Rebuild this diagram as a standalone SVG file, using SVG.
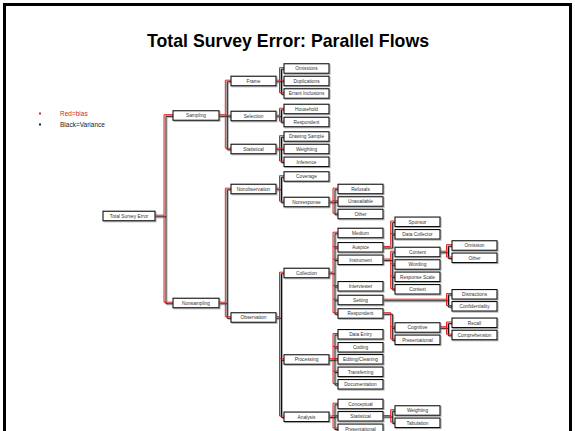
<svg xmlns="http://www.w3.org/2000/svg" width="575" height="431" viewBox="0 0 575 431">
  <defs>
    <filter id="shadow" x="-10%" y="-10%" width="130%" height="140%">
      <feDropShadow dx="1" dy="1" stdDeviation="0.35" flood-color="#777" flood-opacity="0.6"/>
    </filter>
    <style>
      .title { font-family: "Liberation Sans", Arial, sans-serif; font-weight: bold; font-size: 19px; fill: #000; }
      .legend { font-family: "Liberation Sans", Arial, sans-serif; font-size: 6.5px; }
      .node rect { fill: #fff; stroke: #111; stroke-width: 1.1; filter: url(#shadow); }
      .node text { font-family: "Liberation Sans", Arial, sans-serif; font-size: 4.8px; fill: #333; text-anchor: middle; }
      .bias { fill: none; stroke: #e02020; stroke-width: 1; }
      .var { fill: none; stroke: #111; stroke-width: 1; }
    </style>
  </defs>

  <rect x="0" y="0" width="575" height="431" fill="#fff"/>
  <!-- slide frame -->
  <rect x="4.5" y="4.5" width="566" height="460" fill="none" stroke="#000" stroke-width="3"/>

  <text class="title" x="288" y="47" text-anchor="middle" textLength="282" lengthAdjust="spacingAndGlyphs">Total Survey Error: Parallel Flows</text>

  <!-- legend -->
  <g id="legend" class="legend">
    <rect x="39" y="112.5" width="2" height="2" fill="#e02020"/>
    <text x="60" y="115.5" fill="#e02020">Red=bias</text>
    <rect x="39" y="123.5" width="2" height="2" fill="#222"/>
    <text x="60" y="126.5" fill="#222">Black=Variance</text>
  </g>

  <!-- connectors: red = bias path, black = variance path -->
  <g id="connectors" filter="url(#shadow)">
    <path class="var" d="M155,216.8H166 M166,116.3V303.8 M166,116.3H173 M166,303.8H173
      M219,116.3H227.3 M227.3,81.8V149.8 M227.3,81.8H231 M227.3,116.8H231 M227.3,149.8H231
      M219,303.8H227.3 M227.3,189.8V318.3 M227.3,189.8H231 M227.3,318.3H231
      M276,81.8H281.5 M281.5,69.3V94.3 M281.5,69.3H284 M281.5,81.8H284 M281.5,94.3H284
      M276,116.8H281.5 M281.5,109.8V122.8 M281.5,109.8H284 M281.5,122.8H284
      M276,149.8H281.5 M281.5,137.3V162.6 M281.5,137.3H284 M281.5,149.8H284 M281.5,162.6H284
      M276,189.8H281.5 M281.5,177.3V202.8 M281.5,177.3H284 M281.5,202.8H284
      M276,318.3H281.5 M281.5,273.8V417.6 M281.5,273.8H284 M281.5,360.3H284 M281.5,417.6H284
      M329,202.8H335 M335,189.8V214.8 M335,189.8H338 M335,202.3H338 M335,214.8H338
      M329,273.8H335 M335,233.8V314.3 M335,233.8H338 M335,248.1H338 M335,260.6H338 M335,287.1H338 M335,300.8H338 M335,314.3H338
      M329,360.3H335 M335,335.1V385.1 M335,335.1H338 M335,348.1H338 M335,360.1H338 M335,372.6H338 M335,385.1H338
      M329,417.6H335 M335,404.8V429.6 M335,404.8H338 M335,417.1H338 M335,429.6H338
      M383,248.1H392.7 M392.7,222.6V248.1 M392.7,222.6H395 M392.7,235.1H395
      M383,260.6H392.7 M392.7,252.8V290.1 M392.7,252.8H395 M392.7,265.3H395 M392.7,277.6H395 M392.7,290.1H395
      M383,314.3H392.7 M392.7,314.3V340.6 M392.7,328.3H395 M392.7,340.6H395
      M383,300.8H448.5 M448.5,295.1V307.1 M448.5,295.1H452 M448.5,307.1H452
      M383,417.1H392.7 M392.7,411.3V423.6 M392.7,411.3H395 M392.7,423.6H395
      M440,252.8H448.5 M448.5,246.3V258.6 M448.5,246.3H452 M448.5,258.6H452
      M440,328.3H448.5 M448.5,323.6V335.8 M448.5,323.6H452 M448.5,335.8H452"/>
    <path class="bias" d="M155,215.2H164 M164,114.7V302.2 M164,114.7H173 M164,302.2H173
      M219,114.7H225.3 M225.3,80.2V148.2 M225.3,80.2H231 M225.3,115.2H231 M225.3,148.2H231
      M219,302.2H225.3 M225.3,188.2V316.7 M225.3,188.2H231 M225.3,316.7H231
      M276,80.2H279.5 M279.5,67.7V92.7 M279.5,67.7H284 M279.5,80.2H284 M279.5,92.7H284
      M276,115.2H279.5 M279.5,108.2V121.2 M279.5,108.2H284 M279.5,121.2H284
      M276,148.2H279.5 M279.5,135.7V161 M279.5,135.7H284 M279.5,148.2H284 M279.5,161H284
      M276,188.2H279.5 M279.5,175.7V201.2 M279.5,175.7H284 M279.5,201.2H284
      M276,316.7H279.5 M279.5,272.2V416 M279.5,272.2H284 M279.5,358.7H284 M279.5,416H284
      M329,201.2H333 M333,188.2V213.2 M333,188.2H338 M333,200.7H338 M333,213.2H338
      M329,272.2H333 M333,232.2V312.7 M333,232.2H338 M333,246.5H338 M333,259H338 M333,285.5H338 M333,299.2H338 M333,312.7H338
      M329,358.7H333 M333,333.5V383.5 M333,333.5H338 M333,346.5H338 M333,358.5H338 M333,371H338 M333,383.5H338
      M329,416H333 M333,403.2V428 M333,403.2H338 M333,415.5H338 M333,428H338
      M383,246.5H390.7 M390.7,221V246.5 M390.7,221H395 M390.7,233.5H395
      M383,259H390.7 M390.7,251.2V288.5 M390.7,251.2H395 M390.7,263.7H395 M390.7,276H395 M390.7,288.5H395
      M383,312.7H390.7 M390.7,312.7V339 M390.7,326.7H395 M390.7,339H395
      M383,299.2H446.5 M446.5,293.5V305.5 M446.5,293.5H452 M446.5,305.5H452
      M383,415.5H390.7 M390.7,409.7V422 M390.7,409.7H395 M390.7,422H395
      M440,251.2H446.5 M446.5,244.7V257 M446.5,244.7H452 M446.5,257H452
      M440,326.7H446.5 M446.5,322V334.2 M446.5,322H452 M446.5,334.2H452"/>
  </g>

  <!-- level 0 -->
  <g id="n-total" class="node"><rect x="103" y="211.25" width="52" height="9.5"/><text x="129" y="217.7">Total Survey Error</text></g>

  <!-- level 1 -->
  <g id="n-sampling" class="node"><rect x="173" y="110.75" width="46" height="9.5"/><text x="196" y="117.2">Sampling</text></g>
  <g id="n-nonsampling" class="node"><rect x="173" y="298.25" width="46" height="9.5"/><text x="196" y="304.7">Nonsampling</text></g>

  <!-- level 2 -->
  <g id="n-frame" class="node"><rect x="231" y="76.25" width="45" height="9.5"/><text x="253.5" y="82.7">Frame</text></g>
  <g id="n-selection" class="node"><rect x="231" y="111.25" width="45" height="9.5"/><text x="253.5" y="117.7">Selection</text></g>
  <g id="n-statistical" class="node"><rect x="231" y="144.25" width="45" height="9.5"/><text x="253.5" y="150.7">Statistical</text></g>
  <g id="n-nonobservation" class="node"><rect x="231" y="184.25" width="45" height="9.5"/><text x="253.5" y="190.7">Nonobservation</text></g>
  <g id="n-observation" class="node"><rect x="231" y="312.75" width="45" height="9.5"/><text x="253.5" y="319.2">Observation</text></g>

  <!-- level 3 -->
  <g id="n-omissions" class="node"><rect x="284" y="63.75" width="45" height="9.5"/><text x="306.5" y="70.2">Omissions</text></g>
  <g id="n-duplications" class="node"><rect x="284" y="76.25" width="45" height="9.5"/><text x="306.5" y="82.7">Duplications</text></g>
  <g id="n-errant" class="node"><rect x="284" y="88.75" width="45" height="9.5"/><text x="306.5" y="95.2">Errant Inclusions</text></g>
  <g id="n-household" class="node"><rect x="284" y="104.25" width="45" height="9.5"/><text x="306.5" y="110.7">Household</text></g>
  <g id="n-respondent-sel" class="node"><rect x="284" y="117.25" width="45" height="9.5"/><text x="306.5" y="123.7">Respondent</text></g>
  <g id="n-drawing" class="node"><rect x="284" y="131.75" width="45" height="9.5"/><text x="306.5" y="138.2">Drawing Sample</text></g>
  <g id="n-weighting-st" class="node"><rect x="284" y="144.25" width="45" height="9.5"/><text x="306.5" y="150.7">Weighting</text></g>
  <g id="n-inference" class="node"><rect x="284" y="157.05" width="45" height="9.5"/><text x="306.5" y="163.5">Inference</text></g>
  <g id="n-coverage" class="node"><rect x="284" y="171.75" width="45" height="9.5"/><text x="306.5" y="178.2">Coverage</text></g>
  <g id="n-nonresponse" class="node"><rect x="284" y="197.25" width="45" height="9.5"/><text x="306.5" y="203.7">Nonresponse</text></g>
  <g id="n-collection" class="node"><rect x="284" y="268.25" width="45" height="9.5"/><text x="306.5" y="274.7">Collection</text></g>
  <g id="n-processing" class="node"><rect x="284" y="354.75" width="45" height="9.5"/><text x="306.5" y="361.2">Processing</text></g>
  <g id="n-analysis" class="node"><rect x="284" y="412.05" width="45" height="9.5"/><text x="306.5" y="418.5">Analysis</text></g>

  <!-- level 4 -->
  <g id="n-refusals" class="node"><rect x="338" y="184.25" width="45" height="9.5"/><text x="360.5" y="190.7">Refusals</text></g>
  <g id="n-unavailable" class="node"><rect x="338" y="196.75" width="45" height="9.5"/><text x="360.5" y="203.2">Unavailable</text></g>
  <g id="n-other-nr" class="node"><rect x="338" y="209.25" width="45" height="9.5"/><text x="360.5" y="215.7">Other</text></g>
  <g id="n-medium" class="node"><rect x="338" y="228.25" width="45" height="9.5"/><text x="360.5" y="234.7">Medium</text></g>
  <g id="n-auspice" class="node"><rect x="338" y="242.55" width="45" height="9.5"/><text x="360.5" y="249">Auspice</text></g>
  <g id="n-instrument" class="node"><rect x="338" y="255.05" width="45" height="9.5"/><text x="360.5" y="261.5">Instrument</text></g>
  <g id="n-interviewer" class="node"><rect x="338" y="281.55" width="45" height="9.5"/><text x="360.5" y="288">Interviewer</text></g>
  <g id="n-setting" class="node"><rect x="338" y="295.25" width="45" height="9.5"/><text x="360.5" y="301.7">Setting</text></g>
  <g id="n-respondent" class="node"><rect x="338" y="308.75" width="45" height="9.5"/><text x="360.5" y="315.2">Respondent</text></g>
  <g id="n-dataentry" class="node"><rect x="338" y="329.55" width="45" height="9.5"/><text x="360.5" y="336">Data Entry</text></g>
  <g id="n-coding" class="node"><rect x="338" y="342.55" width="45" height="9.5"/><text x="360.5" y="349">Coding</text></g>
  <g id="n-editing" class="node"><rect x="338" y="354.55" width="45" height="9.5"/><text x="360.5" y="361">Editing/Cleaning</text></g>
  <g id="n-transferring" class="node"><rect x="338" y="367.05" width="45" height="9.5"/><text x="360.5" y="373.5">Transferring</text></g>
  <g id="n-documentation" class="node"><rect x="338" y="379.55" width="45" height="9.5"/><text x="360.5" y="386">Documentation</text></g>
  <g id="n-conceptual" class="node"><rect x="338" y="399.25" width="45" height="9.5"/><text x="360.5" y="405.7">Conceptual</text></g>
  <g id="n-statistical-an" class="node"><rect x="338" y="411.55" width="45" height="9.5"/><text x="360.5" y="418">Statistical</text></g>
  <g id="n-presentational-an" class="node"><rect x="338" y="424.05" width="45" height="9.5"/><text x="360.5" y="430.5">Presentational</text></g>

  <!-- level 5 -->
  <g id="n-sponsor" class="node"><rect x="395" y="217.05" width="45" height="9.5"/><text x="417.5" y="223.5">Sponsor</text></g>
  <g id="n-datacollector" class="node"><rect x="395" y="229.55" width="45" height="9.5"/><text x="417.5" y="236">Data Collector</text></g>
  <g id="n-content" class="node"><rect x="395" y="247.25" width="45" height="9.5"/><text x="417.5" y="253.7">Content</text></g>
  <g id="n-wording" class="node"><rect x="395" y="259.75" width="45" height="9.5"/><text x="417.5" y="266.2">Wording</text></g>
  <g id="n-responsescale" class="node"><rect x="395" y="272.05" width="45" height="9.5"/><text x="417.5" y="278.5">Response Scale</text></g>
  <g id="n-context" class="node"><rect x="395" y="284.55" width="45" height="9.5"/><text x="417.5" y="291">Context</text></g>
  <g id="n-cognitive" class="node"><rect x="395" y="322.75" width="45" height="9.5"/><text x="417.5" y="329.2">Cognitive</text></g>
  <g id="n-presentational" class="node"><rect x="395" y="335.05" width="45" height="9.5"/><text x="417.5" y="341.5">Presentational</text></g>
  <g id="n-weighting" class="node"><rect x="395" y="405.75" width="45" height="9.5"/><text x="417.5" y="412.2">Weighting</text></g>
  <g id="n-tabulation" class="node"><rect x="395" y="418.05" width="45" height="9.5"/><text x="417.5" y="424.5">Tabulation</text></g>

  <!-- level 6 -->
  <g id="n-omission" class="node"><rect x="452" y="240.75" width="45" height="9.5"/><text x="474.5" y="247.2">Omission</text></g>
  <g id="n-other-ct" class="node"><rect x="452" y="253.05" width="45" height="9.5"/><text x="474.5" y="259.5">Other</text></g>
  <g id="n-distractions" class="node"><rect x="452" y="289.55" width="45" height="9.5"/><text x="474.5" y="296">Distractions</text></g>
  <g id="n-confidentiality" class="node"><rect x="452" y="301.55" width="45" height="9.5"/><text x="474.5" y="308">Confidentiality</text></g>
  <g id="n-recall" class="node"><rect x="452" y="318.05" width="45" height="9.5"/><text x="474.5" y="324.5">Recall</text></g>
  <g id="n-comprehension" class="node"><rect x="452" y="330.25" width="45" height="9.5"/><text x="474.5" y="336.7">Comprehension</text></g>
</svg>
